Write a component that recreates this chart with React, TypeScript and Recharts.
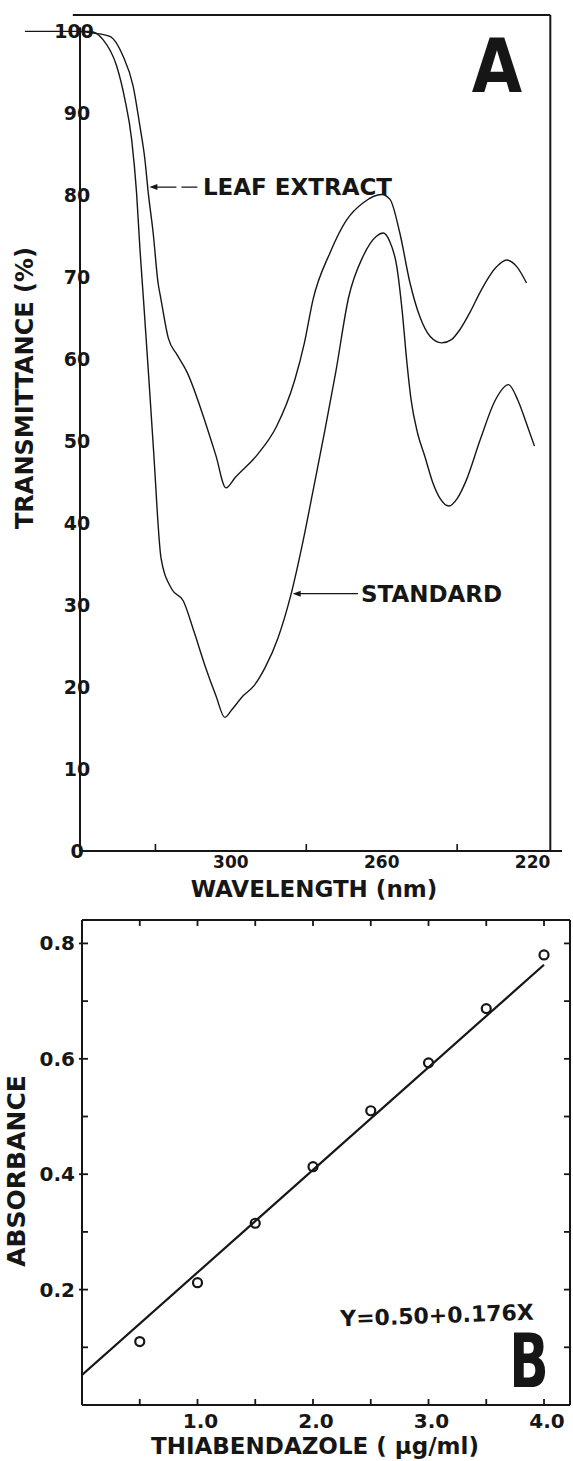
import React from 'react';
import { LineChart, ComposedChart, Line, Scatter, XAxis, YAxis, ReferenceLine } from 'recharts';

const INK = '#161616';
const FONT = '"DejaVu Sans", Verdana, sans-serif';

// panel A: UV spectra, wavelength (nm) against transmittance (%)
const leafNm = [340, 336.5, 332.1, 328.6, 325.9, 324.1, 322.8, 321.9, 320.6, 319.3, 318.6, 316.6, 314.2, 311.6, 306.7, 304.0, 301.3, 298.8, 292.9, 288.0, 283.1, 280.5, 278.2, 273.7, 269.3, 264.9, 260.0, 257.8, 255.2, 252.5, 249.9, 247.2, 244.1, 241.5, 239.3, 236.5, 234.0, 229.5, 226.9, 224.2, 221.6];
const leafT = [100, 99.8, 99.4, 97.0, 93.3, 88.4, 84.4, 80.3, 75.4, 69.3, 67.5, 62.6, 60.5, 58.4, 52.2, 48.3, 44.3, 45.6, 48.4, 51.7, 57.4, 62.0, 67.3, 73.0, 77.0, 79.1, 80.1, 79.5, 75.4, 69.3, 65.2, 62.8, 62.0, 62.4, 63.6, 65.8, 68.1, 71.3, 72.1, 71.3, 69.3];
const stdNm = [340, 337.4, 333.9, 330.3, 328.1, 326.3, 325.0, 324.1, 323.2, 321.8, 320.5, 318.5, 315.6, 312.6, 309.8, 306.7, 304.0, 301.6, 299.8, 296.8, 293.8, 290.9, 287.5, 284.0, 281.0, 278.1, 275.0, 272.2, 268.8, 264.9, 261.4, 259.6, 258.0, 256.0, 254.6, 253.3, 252.2, 250.5, 248.6, 246.5, 244.5, 242.2, 240.0, 237.7, 233.8, 229.9, 226.4, 223.9, 221.5, 219.5];
const stdT = [100, 100, 99.0, 95.8, 91.7, 86.8, 80.3, 73.4, 67.5, 58.0, 48.9, 35.7, 31.9, 30.5, 26.8, 22.4, 19.0, 16.3, 17.2, 18.9, 20.2, 22.4, 26.0, 31.4, 37.5, 44.2, 51.5, 58.4, 67.5, 72.6, 75.0, 75.4, 74.5, 71.3, 66.0, 59.5, 55.0, 51.0, 48.2, 45.0, 43.0, 42.1, 43.0, 45.1, 50.3, 55.0, 56.9, 55.0, 52.0, 49.4];
const nmTicks = [320, 300, 280, 260, 240, 220];
const nmLabelled = [300, 260, 220];
const tTicks = [0, 10, 20, 30, 40, 50, 60, 70, 80, 90, 100];

// panel B: calibration, thiabendazole (ug/ml) against absorbance
const conc = [0.5, 1.0, 1.5, 2.0, 2.5, 3.0, 3.5, 4.0];
const absorb = [0.110, 0.212, 0.315, 0.413, 0.510, 0.593, 0.687, 0.780];
const fitConc = [0, 4.0];
const fitAbs = [0.052, 0.763];
const concTicks = [0.5, 1.0, 1.5, 2.0, 2.5, 3.0, 3.5, 4.0];
const concLabelled = [1, 2, 3, 4];
const absTicks = [0.1, 0.2, 0.3, 0.4, 0.5, 0.6, 0.7, 0.8];
const absLabelled = [0.2, 0.4, 0.6, 0.8];

const leafData = leafNm.map((nm, i) => ({ nm, t: leafT[i] }));
const stdData = stdNm.map((nm, i) => ({ nm, t: stdT[i] }));
const pointData = conc.map((c, i) => ({ c, a: absorb[i] }));
const fitData = fitConc.map((c, i) => ({ c, a: fitAbs[i] }));

const bold = { fontFamily: FONT, fontWeight: 'bold' as const, fill: INK };

const nmTick = (p: any) => {
  const v = p.payload.value;
  if (nmLabelled.includes(v)) {
    return <text x={p.x} y={p.y + 17} textAnchor="middle" fontSize={17} {...bold}>{v}</text>;
  }
  return <line x1={p.x} x2={p.x} y1={p.y} y2={p.y - 7} stroke={INK} strokeWidth={1.6} />;
};

const tTick = (p: any) => {
  const v = p.payload.value;
  return (
    <text x={p.x - (v === 100 ? 6 : 3)} y={p.y + 7} textAnchor="middle" fontSize={19} {...bold}>{v}</text>
  );
};

const concTick = (p: any) => {
  const v = p.payload.value;
  return (
    <g>
      <line x1={p.x} x2={p.x} y1={p.y} y2={p.y - 6} stroke={INK} strokeWidth={1.8} />
      {concLabelled.includes(v) && (
        <text x={p.x + 3} y={p.y + 23} textAnchor="middle" fontSize={20} {...bold}>{v.toFixed(1)}</text>
      )}
    </g>
  );
};

const topTick = (p: any) => (
  <line x1={p.x} x2={p.x} y1={p.y} y2={p.y + 6} stroke={INK} strokeWidth={1.8} />
);

const absTick = (p: any) => {
  const v = p.payload.value;
  const major = absLabelled.some(m => Math.abs(m - v) < 1e-6);
  return (
    <g>
      <line x1={major ? p.x - 3 : p.x} x2={p.x + 6} y1={p.y} y2={p.y} stroke={INK} strokeWidth={1.8} />
      {major && (
        <text x={p.x - 7} y={p.y + 7} textAnchor="end" fontSize={20} {...bold}>{v.toFixed(1)}</text>
      )}
    </g>
  );
};

const rightTick = (p: any) => (
  <line x1={p.x} x2={p.x - 6} y1={p.y} y2={p.y} stroke={INK} strokeWidth={1.8} />
);

const ring = (p: any) => (
  <circle cx={p.cx} cy={p.cy} r={4.5} fill="none" stroke={INK} strokeWidth={2.2} />
);

// pointer line with an arrow head at its first end and a caption past its second end
const pointer = (caption: string, dash?: string) => (p: any) => {
  const { x1, y1, x2, y2 } = p;
  return (
    <g>
      <line x1={x1 + 5} y1={y1} x2={x2} y2={y2} stroke={INK} strokeWidth={1.3} strokeDasharray={dash} />
      <polygon points={`${x1},${y1} ${x1 + 8},${y1 - 3} ${x1 + 8},${y1 + 3}`} fill={INK} />
      <text x={x2 + 3} y={y2 + 8} fontSize={23} {...bold}>{caption}</text>
    </g>
  );
};

export default function App() {
  return (
    <div style={{ position: 'absolute', left: 0, top: 0, width: 573, height: 1461, background: '#fff', overflow: 'hidden' }}>
      <div style={{ position: 'absolute', left: 0, top: 0 }}>
        <LineChart width={573} height={905} margin={{ top: 15, right: 11, bottom: 0, left: 0 }}>
          <XAxis type="number" dataKey="nm" domain={[212.2, 340]} reversed allowDataOverflow
            ticks={nmTicks} interval={0} height={54} tickSize={0} tickMargin={0} tickLine={false}
            axisLine={{ stroke: INK, strokeWidth: 2 }} tick={nmTick} />
          <YAxis type="number" dataKey="t" domain={[0, 102]} allowDataOverflow
            ticks={tTicks} interval={0} width={80} tickSize={0} tickMargin={0} tickLine={false}
            axisLine={false} tick={tTick} />
          <ReferenceLine segment={[{ x: 340, y: 0 }, { x: 340, y: 100.5 }]} stroke={INK} strokeWidth={2} ifOverflow="visible" />
          <ReferenceLine segment={[{ x: 341.9, y: 102 }, { x: 215.3, y: 102 }]} stroke={INK} strokeWidth={2} ifOverflow="visible" />
          <ReferenceLine segment={[{ x: 215.3, y: 0 }, { x: 215.3, y: 102 }]} stroke={INK} strokeWidth={2} ifOverflow="visible" />
          <ReferenceLine segment={[{ x: 354.6, y: 100 }, { x: 340, y: 100 }]} stroke={INK} strokeWidth={1.3} ifOverflow="visible" />
          <ReferenceLine segment={[{ x: 321.6, y: 81.0 }, { x: 308.2, y: 81.0 }]} ifOverflow="visible"
            shape={pointer('LEAF EXTRACT', '22 5 16 10')} />
          <ReferenceLine segment={[{ x: 283.6, y: 31.4 }, { x: 266.3, y: 31.4 }]} ifOverflow="visible"
            shape={pointer('STANDARD')} />
          <Line data={leafData} dataKey="t" type="monotone" stroke={INK} strokeWidth={1.4} dot={false} isAnimationActive={false} />
          <Line data={stdData} dataKey="t" type="monotone" stroke={INK} strokeWidth={1.4} dot={false} isAnimationActive={false} />
        </LineChart>
      </div>

      <div style={{ position: 'absolute', left: 0, top: 900 }}>
        <ComposedChart width={573} height={561} margin={{ top: 19, right: 2, bottom: 0, left: 0 }}>
          <XAxis xAxisId="b" type="number" dataKey="c" domain={[0, 4.225]} allowDataOverflow
            ticks={concTicks} interval={0} height={56} tickSize={0} tickMargin={0} tickLine={false}
            axisLine={{ stroke: INK, strokeWidth: 2 }} tick={concTick} />
          <XAxis xAxisId="t" orientation="top" type="number" dataKey="c" domain={[0, 4.225]} allowDataOverflow
            ticks={concTicks} interval={0} height={1} tickSize={0} tickMargin={0} tickLine={false}
            axisLine={{ stroke: INK, strokeWidth: 2 }} tick={topTick} />
          <YAxis yAxisId="l" type="number" dataKey="a" domain={[0, 0.8406]} allowDataOverflow
            ticks={absTicks} interval={0} width={82} tickSize={0} tickMargin={0} tickLine={false}
            axisLine={{ stroke: INK, strokeWidth: 2 }} tick={absTick} />
          <YAxis yAxisId="r" orientation="right" type="number" dataKey="a" domain={[0, 0.8406]} allowDataOverflow
            ticks={absTicks} interval={0} width={1} tickSize={0} tickMargin={0} tickLine={false}
            axisLine={{ stroke: INK, strokeWidth: 2 }} tick={rightTick} />
          <Line xAxisId="t" yAxisId="r" data={fitData} dataKey="a" type="linear" stroke={INK} strokeWidth={2.2} dot={false} isAnimationActive={false} />
          <Scatter xAxisId="b" yAxisId="l" data={pointData} dataKey="a" shape={ring} isAnimationActive={false} />
        </ComposedChart>
      </div>

      <svg width={573} height={1461} style={{ position: 'absolute', left: 0, top: 0, pointerEvents: 'none' }}>
        <text x={33} y={388} transform="rotate(-90 33 388)" textAnchor="middle" fontSize={24} {...bold}>TRANSMITTANCE (%)</text>
        <text x={314} y={897} textAnchor="middle" fontSize={23} {...bold}>WAVELENGTH (nm)</text>
        <text transform="translate(497 92) scale(0.88 1)" textAnchor="middle" fontSize={74} {...bold}>A</text>

        <text x={25} y={1171} transform="rotate(-90 25 1171)" textAnchor="middle" fontSize={25} {...bold}>ABSORBANCE</text>
        <text x={437} y={1323} transform="rotate(-2 437 1315)" textAnchor="middle" fontSize={22} {...bold}>Y=0.50+0.176X</text>
        <text transform="translate(529 1387) scale(0.7 1)" textAnchor="middle" fontSize={74} {...bold}>B</text>
        <text x={315} y={1454} textAnchor="middle" fontSize={23} {...bold}>THIABENDAZOLE ( µg/ml)</text>
      </svg>
    </div>
  );
}
